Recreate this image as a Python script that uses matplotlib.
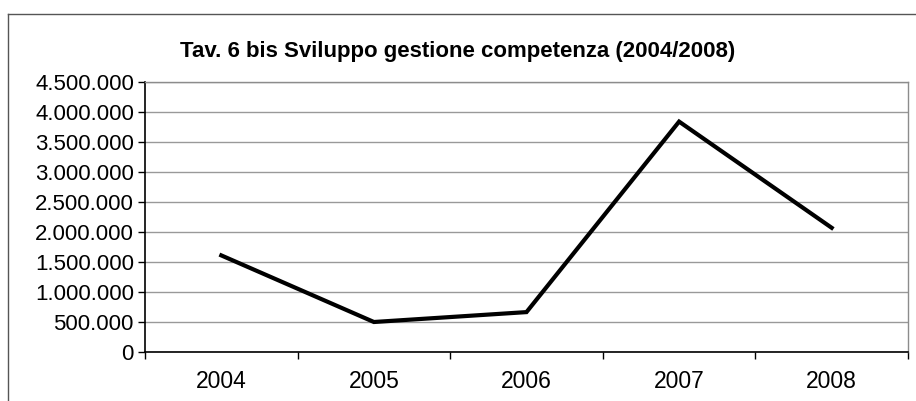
import matplotlib
matplotlib.use("Agg")
import matplotlib.pyplot as plt
from matplotlib.ticker import FuncFormatter, FixedLocator
from matplotlib.lines import Line2D

plt.rcParams['font.family'] = ['Liberation Sans', 'DejaVu Sans']

# dati
anni = ['2004', '2005', '2006', '2007', '2008']
valori = [1610000, 500000, 665000, 3840000, 2070000]
y_ticks = list(range(0, 4500001, 500000))

fig = plt.figure(figsize=(9.16, 4.01), dpi=100)
ax = fig.add_axes([145 / 916, 49 / 401, 763 / 916, 270 / 401])

x = list(range(len(anni)))
ax.plot(x, valori, color='black', lw=3, solid_joinstyle='miter')

ax.set_xlim(-0.5, len(anni) - 0.5)
ax.set_ylim(0, 4500000)
ax.set_yticks(y_ticks)
ax.yaxis.set_major_formatter(FuncFormatter(lambda v, p: f"{int(v):,}".replace(',', '.')))
ax.grid(axis='y', color='#999999', lw=1)
ax.set_axisbelow(True)

# tacche tra le categorie, etichette al centro
ax.xaxis.set_major_locator(FixedLocator([i - 0.5 for i in range(len(anni) + 1)]))
ax.xaxis.set_major_formatter(FuncFormatter(lambda v, p: ''))
ax.xaxis.set_minor_locator(FixedLocator(x))
ax.set_xticklabels(anni, minor=True)
ax.tick_params(axis='x', which='minor', length=0, pad=13, labelsize=16.5)
ax.tick_params(axis='x', which='major', length=5, width=1)
ax.tick_params(axis='y', length=5, width=1, pad=3, labelsize=16)

for s in ['top', 'right']:
    ax.spines[s].set_color('#8c8c8c')
    ax.spines[s].set_linewidth(1)
for s in ['left', 'bottom']:
    ax.spines[s].set_color('black')
    ax.spines[s].set_linewidth(1.2)

fig.text(0.5, 1 - 51 / 401, 'Tav. 6 bis Sviluppo gestione competenza (2004/2008)',
         ha='center', va='center', fontsize=16, fontweight='bold')

# cornice esterna
fig.add_artist(Line2D([8 / 916, 8 / 916], [0, 1 - 14 / 401], color='#555555', lw=1))
fig.add_artist(Line2D([8 / 916, 1], [1 - 14 / 401, 1 - 14 / 401], color='#555555', lw=1))

fig.savefig('out.png', dpi=100)
